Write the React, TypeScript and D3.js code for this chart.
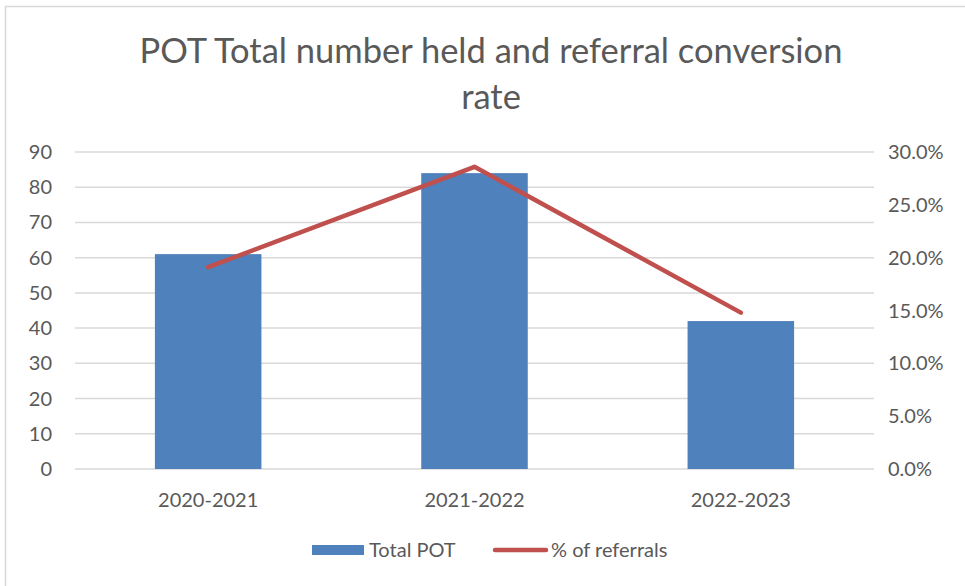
import React from 'react'
import { scaleBand, scaleLinear, line } from 'd3'

const years = ['2020-2021', '2021-2022', '2022-2023']
const totalPot = [61, 84, 42]
const referralPct = [0.191, 0.286, 0.148]
const leftTicks = [0, 10, 20, 30, 40, 50, 60, 70, 80, 90]
const rightTicks = [0, 0.05, 0.1, 0.15, 0.2, 0.25, 0.3]

const font = 'Lato, "Open Sans", sans-serif'
const textCol = '#595959'

export default function App() {
  const width = 965
  const height = 586
  const margin = { top: 152, right: 91, bottom: 117, left: 75 }
  const innerW = width - margin.left - margin.right
  const innerH = height - margin.top - margin.bottom

  const x = scaleBand().domain(years).range([0, innerW]).paddingInner(0.6).paddingOuter(0.3)
  const yL = scaleLinear().domain([0, 90]).range([innerH, 0])
  const yR = scaleLinear().domain([0, 0.3]).range([innerH, 0])

  const pts: [number, number][] = years.map((d, i) => [x(d)! + x.bandwidth() / 2, yR(referralPct[i])])
  const path = line()(pts) || ''

  return (
    <svg width={width} height={height} style={{ position: 'absolute', left: 0, top: 0 }}>
      <rect x={5.5} y={6.5} width={width + 10} height={height + 10} fill="white" stroke="#d9d9d9" strokeWidth={1.5} />
      <text x={491} y={63} textAnchor="middle" fontFamily={font} fontSize={34.5} fill={textCol}>
        POT Total number held and referral conversion
      </text>
      <text x={491} y={109} textAnchor="middle" fontFamily={font} fontSize={34.5} fill={textCol}>
        rate
      </text>
      <g transform={`translate(${margin.left},${margin.top})`}>
        {leftTicks.map(t => (
          <g key={t}>
            <line x1={0} x2={innerW} y1={yL(t)} y2={yL(t)} stroke="#d9d9d9" strokeWidth={1.5} />
            <text x={-23} y={yL(t)} dy="0.35em" textAnchor="end" fontFamily={font} fontSize={20} fill={textCol}>
              {t}
            </text>
          </g>
        ))}
        {rightTicks.map(t => (
          <text key={t} x={innerW + 14} y={yR(t)} dy="0.35em" textAnchor="start" fontFamily={font} fontSize={20} fill={textCol}>
            {(t * 100).toFixed(1)}%
          </text>
        ))}
        {years.map((d, i) => (
          <g key={d}>
            <rect x={x(d)!} y={yL(totalPot[i])} width={x.bandwidth()} height={innerH - yL(totalPot[i])} fill="#4f81bd" />
            <text x={x(d)! + x.bandwidth() / 2} y={innerH + 38} textAnchor="middle" fontFamily={font} fontSize={20} fill={textCol}>
              {d}
            </text>
          </g>
        ))}
        <path d={path} fill="none" stroke="#c0504d" strokeWidth={4.5} strokeLinecap="round" strokeLinejoin="round" />
      </g>
      <g transform="translate(0,550)">
        <rect x={312} y={-5} width={52} height={10} fill="#4f81bd" />
        <text x={369} y={0} dy="0.35em" fontFamily={font} fontSize={20} fill={textCol}>Total POT</text>
        <line x1={495} x2={546} y1={0} y2={0} stroke="#c0504d" strokeWidth={4.5} strokeLinecap="round" />
        <text x={551} y={0} dy="0.35em" fontFamily={font} fontSize={20} fill={textCol}>% of referrals</text>
      </g>
    </svg>
  )
}
